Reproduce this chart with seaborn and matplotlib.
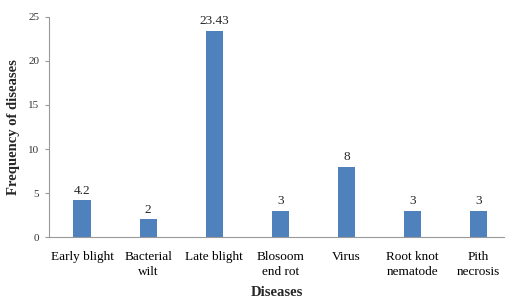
import matplotlib
matplotlib.use("Agg")
import matplotlib.pyplot as plt
import seaborn as sns
import pandas as pd

categories = ["Early blight", "Bacterial\nwilt", "Late blight", "Blosoom\nend rot",
              "Virus", "Root knot\nnematode", "Pith\nnecrosis"]
values = [4.2, 2, 23.43, 3, 8, 3, 3]
value_labels = ["4.2", "2", "23.43", "3", "8", "3", "3"]
yticks = [0, 5, 10, 15, 20, 25]

sns.set_style("white")
plt.rcParams['font.family'] = ['Liberation Serif', 'DejaVu Serif']

df = pd.DataFrame({"Disease": categories, "Frequency": values})

fig = plt.figure(figsize=(5.05, 3.02), dpi=100)
ax = fig.add_axes([0.097, 0.215, 0.903, 0.729])
sns.barplot(data=df, x="Disease", y="Frequency", color="#4F81BD", saturation=1,
            width=0.26, linewidth=0, ax=ax)
ax.set_xlim(-0.5, 6.4)
ax.set_ylim(0, 25)
ax.set_yticks(yticks)
ax.tick_params(axis='y', labelsize=8, length=3, left=True, direction='out', width=0.8,
               color='#999999', pad=4)
ax.tick_params(axis='x', labelsize=9.5, colors='black', length=0, pad=10)
for lbl in ax.get_yticklabels():
    lbl.set_color('#333333')
for lbl in ax.get_xticklabels():
    lbl.set_linespacing(1.35)
for i, (v, t) in enumerate(zip(values, value_labels)):
    ax.text(i, v + 0.4, t, ha='center', va='bottom', fontsize=9.5)
for s in ['top', 'right']:
    ax.spines[s].set_visible(False)
for s in ['left', 'bottom']:
    ax.spines[s].set_color('#999999')
    ax.spines[s].set_linewidth(0.8)
ax.set_xlabel("Diseases", fontsize=10.5, fontweight='bold', labelpad=6)
ax.set_ylabel("Frequency of diseases", fontsize=10.5, fontweight='bold', labelpad=6)
fig.savefig("out.png", dpi=100)
